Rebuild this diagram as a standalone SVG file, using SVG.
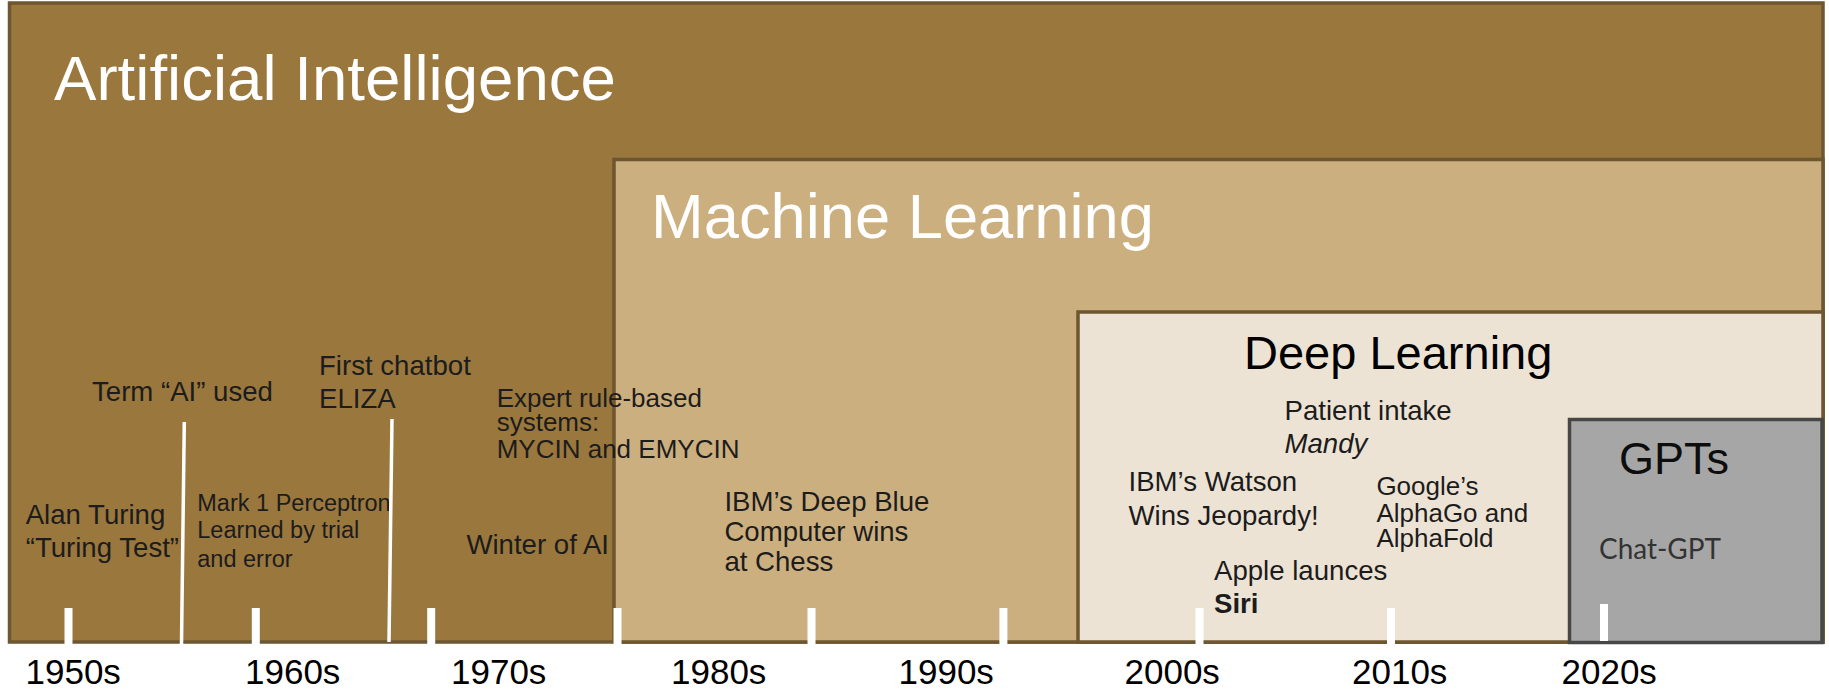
<svg xmlns="http://www.w3.org/2000/svg" width="1829" height="690" viewBox="0 0 1829 690">
<style>
.lbl{font-family:"Liberation Sans",Arial,sans-serif;font-size:27.6px;fill:#1c1c1c}
.sm{font-size:23.5px}
.md{font-size:26px}
.title{font-family:"Liberation Sans",Arial,sans-serif;font-size:63.5px;fill:#ffffff}
.dec{font-family:"Liberation Sans",Arial,sans-serif;font-size:35px;fill:#000000}
.tick{fill:#ffffff}
.brown{stroke:#6e5630;stroke-width:3.5}
</style>
<rect width="1829" height="690" fill="#ffffff"/>
<g id="ai">
<rect x="9.5" y="3" width="1813.5" height="639" fill="#9a773d" class="brown"/>
<text class="title" x="54" y="100" textLength="562" lengthAdjust="spacingAndGlyphs">Artificial Intelligence</text>
</g>
<g id="ml">
<rect x="614" y="159.5" width="1209" height="482.5" fill="#ccaf7f" class="brown"/>
<text class="title" x="651" y="238" textLength="503" lengthAdjust="spacingAndGlyphs">Machine Learning</text>
</g>
<g id="dl">
<rect x="1078" y="312" width="745" height="330" fill="#ede3d4" class="brown"/>
<text x="1244" y="369" style="font-family:'Liberation Sans',Arial,sans-serif;font-size:47px;fill:#000">Deep Learning</text>
</g>
<g id="gpts">
<rect x="1569.5" y="419.5" width="252.5" height="223" fill="#a6a6a6" stroke="#474747" stroke-width="3.5"/>
<text x="1619" y="474" style="font-family:'Liberation Sans',Arial,sans-serif;font-size:45px;fill:#0d0d0d">GPTs</text>
</g>
<g id="axis">
<rect class="tick" x="64.5" y="608" width="8" height="36"/>
<rect class="tick" x="251.8" y="608" width="8" height="36"/>
<rect class="tick" x="427.2" y="608" width="8" height="36"/>
<rect class="tick" x="613.5" y="608" width="8" height="36"/>
<rect class="tick" x="807.5" y="608" width="8" height="36"/>
<rect class="tick" x="999.4" y="608" width="8" height="36"/>
<rect class="tick" x="1195.5" y="608" width="8" height="36"/>
<rect class="tick" x="1387" y="608" width="8" height="36"/>
<rect class="tick" x="1600" y="604" width="8" height="37"/>
<text class="dec" x="25.5" y="684">1950s</text>
<text class="dec" x="245" y="684">1960s</text>
<text class="dec" x="451" y="684">1970s</text>
<text class="dec" x="671" y="684">1980s</text>
<text class="dec" x="898.5" y="684">1990s</text>
<text class="dec" x="1124.5" y="684">2000s</text>
<text class="dec" x="1352" y="684">2010s</text>
<text class="dec" x="1561.5" y="684">2020s</text>
</g>
<g id="turing"><text class="lbl" x="25.7" y="524">Alan Turing<tspan x="25.7" y="557">“Turing Test”</tspan></text></g>
<g id="term-ai"><text class="lbl" x="92" y="401">Term “AI” used</text></g>
<g id="perceptron"><text class="lbl sm" x="197.3" y="510.7">Mark 1 Perceptron<tspan x="197.3" y="538.3">Learned by trial</tspan><tspan x="197.3" y="567">and error</tspan></text></g>
<g id="eliza"><text class="lbl" x="319" y="375">First chatbot<tspan x="319" y="408">ELIZA</tspan></text></g>
<g id="expert"><text class="lbl md" x="496.7" y="407">Expert rule-based<tspan x="496.7" y="431">systems:</tspan><tspan x="496.7" y="457.5">MYCIN and EMYCIN</tspan></text></g>
<g id="winter"><text class="lbl" x="466.4" y="554">Winter of AI</text></g>
<g id="deepblue"><text class="lbl" x="724.4" y="510.7">IBM’s Deep Blue<tspan x="724.4" y="540.7">Computer wins</tspan><tspan x="724.4" y="570.7">at Chess</tspan></text></g>
<g id="mandy"><text class="lbl" x="1284.5" y="420">Patient intake<tspan x="1284.5" y="453.3" font-style="italic">Mandy</tspan></text></g>
<g id="watson"><text class="lbl" x="1128.5" y="490.7">IBM’s Watson<tspan x="1128.5" y="524.5">Wins Jeopardy!</tspan></text></g>
<g id="alphago"><text class="lbl md" x="1376.4" y="495">Google’s<tspan x="1376.4" y="521.7">AlphaGo and</tspan><tspan x="1376.4" y="546.7">AlphaFold</tspan></text></g>
<g id="siri"><text class="lbl" x="1214" y="580">Apple launces<tspan x="1214" y="613.3" font-weight="bold">Siri</tspan></text></g>
<g id="chatgpt"><text x="1599" y="559.3" textLength="122" lengthAdjust="spacingAndGlyphs" style="font-family:Lato,'Liberation Sans',sans-serif;font-size:28px;fill:#333333">Chat-GPT</text></g>
<g id="connectors" stroke="#ffffff" stroke-width="3.5" fill="none">
<line x1="184.3" y1="422" x2="181.5" y2="644"/>
<line x1="392" y1="419" x2="389" y2="642"/>
</g>
</svg>
